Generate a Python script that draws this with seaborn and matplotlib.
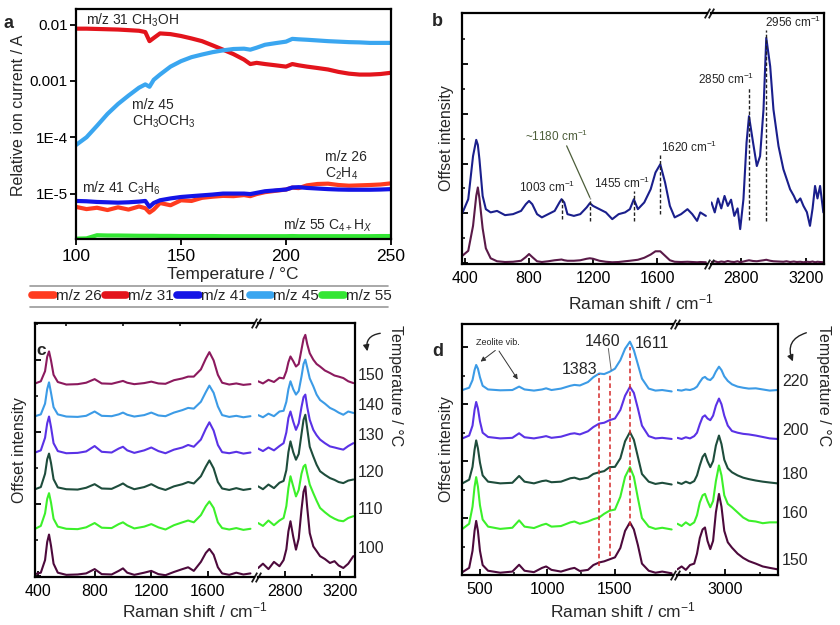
import matplotlib
matplotlib.use("Agg")
import matplotlib.pyplot as plt
import seaborn as sns
from matplotlib.lines import Line2D
from matplotlib.patches import FancyArrowPatch
from matplotlib.ticker import FixedLocator, NullLocator
from matplotlib.transforms import blended_transform_factory

# ---------------- panel a : mass spec traces ----------------
temp = [100, 105, 110, 115, 120, 125, 130, 133, 135, 137, 140, 145, 150, 155, 160, 165, 170, 175,
        180, 183, 186, 190, 195, 200, 203, 206, 210, 215, 220, 225, 230, 235, 240, 245, 250]
mz31 = [8.5e-3, 8.5e-3, 8.4e-3, 8.3e-3, 8.2e-3, 8.0e-3, 7.8e-3, 7.4e-3, 5.1e-3, 5.8e-3, 7.0e-3, 6.8e-3,
        6.3e-3, 5.7e-3, 5.1e-3, 4.3e-3, 3.6e-3, 3.0e-3, 2.4e-3, 2.0e-3, 2.1e-3, 2.0e-3, 1.9e-3, 1.8e-3,
        2.0e-3, 1.9e-3, 1.8e-3, 1.7e-3, 1.6e-3, 1.45e-3, 1.35e-3, 1.3e-3, 1.3e-3, 1.33e-3, 1.4e-3]
mz45 = [7.3e-5, 1.0e-4, 1.6e-4, 2.6e-4, 3.9e-4, 5.5e-4, 7.6e-4, 8.7e-4, 7.9e-4, 1.05e-3, 1.3e-3, 1.8e-3,
        2.25e-3, 2.65e-3, 2.95e-3, 3.25e-3, 3.5e-3, 3.7e-3, 3.75e-3, 3.6e-3, 3.9e-3, 4.4e-3, 4.7e-3, 5.0e-3,
        5.6e-3, 5.5e-3, 5.4e-3, 5.25e-3, 5.1e-3, 5.0e-3, 4.9e-3, 4.85e-3, 4.75e-3, 4.75e-3, 4.75e-3]
mz41 = [7.4e-6, 7.3e-6, 7.1e-6, 7.0e-6, 6.9e-6, 7.0e-6, 7.2e-6, 7.4e-6, 5.8e-6, 6.8e-6, 7.6e-6, 8.2e-6,
        8.7e-6, 9.0e-6, 9.3e-6, 9.6e-6, 1.0e-5, 1.0e-5, 1.0e-5, 9.8e-6, 1.03e-5, 1.1e-5, 1.14e-5, 1.18e-5,
        1.28e-5, 1.3e-5, 1.26e-5, 1.23e-5, 1.2e-5, 1.18e-5, 1.17e-5, 1.17e-5, 1.17e-5, 1.18e-5, 1.2e-5]
mz26 = [5.8e-6, 5.3e-6, 5.6e-6, 5.1e-6, 5.7e-6, 5.2e-6, 5.9e-6, 5.5e-6, 4.6e-6, 5.2e-6, 6.8e-6, 6.2e-6,
        7.6e-6, 7.4e-6, 8.4e-6, 8.8e-6, 9.1e-6, 9.0e-6, 9.4e-6, 9.0e-6, 9.8e-6, 1.06e-5, 1.12e-5, 1.18e-5,
        1.28e-5, 1.25e-5, 1.4e-5, 1.48e-5, 1.5e-5, 1.42e-5, 1.38e-5, 1.4e-5, 1.42e-5, 1.45e-5, 1.52e-5]
mz55 = [1.58e-6, 1.6e-6, 1.82e-6, 1.8e-6, 1.8e-6, 1.79e-6, 1.78e-6, 1.78e-6, 1.78e-6, 1.78e-6, 1.77e-6,
        1.77e-6, 1.76e-6, 1.76e-6, 1.76e-6, 1.76e-6, 1.75e-6, 1.75e-6, 1.75e-6, 1.75e-6, 1.75e-6, 1.75e-6,
        1.75e-6, 1.75e-6, 1.76e-6, 1.75e-6, 1.75e-6, 1.75e-6, 1.75e-6, 1.75e-6, 1.75e-6, 1.75e-6, 1.75e-6,
        1.76e-6, 1.76e-6]
ms_names = ["m/z 26", "m/z 31", "m/z 41", "m/z 45", "m/z 55"]
ms_colors = ["#ff3b1f", "#e3141c", "#1414e6", "#3aa6f0", "#33e633"]

# ---------------- panel b : Raman, two spectra ----------------
b_x_lo = [385, 420, 450, 470, 480, 490, 510, 530, 560, 600, 650, 700, 750, 780, 800, 820, 850, 880, 920,
          960, 990, 1003, 1020, 1040, 1080, 1120, 1160, 1180, 1200, 1240, 1280, 1320, 1360, 1400, 1430,
          1455, 1480, 1520, 1560, 1590, 1620, 1650, 1680, 1710, 1750, 1790, 1820, 1850, 1870, 1905]
b_top_lo = [2.04, 2.57, 4.3, 4.95, 4.75, 4.17, 2.7, 2.17, 2.04, 2.1, 1.93, 1.97, 2.1, 2.37, 2.5, 2.37,
            1.97, 1.84, 1.97, 2.1, 2.44, 2.57, 2.44, 1.97, 1.9, 1.97, 2.24, 2.41, 2.3, 2.17, 2.04, 1.77,
            1.97, 2.04, 2.17, 2.57, 2.17, 2.44, 2.97, 3.64, 3.97, 3.24, 2.3, 1.84, 1.97, 2.17, 1.97, 1.7,
            2.04, 1.9]
b_bot_lo = [0.31, 0.5, 1.5, 2.7, 3.04, 2.6, 1.4, 0.6, 0.2, 0.08, 0.05, 0.06, 0.1, 0.25, 0.37, 0.25, 0.08,
            0.05, 0.08, 0.12, 0.14, 0.15, 0.12, 0.1, 0.1, 0.12, 0.18, 0.2, 0.18, 0.1, 0.06, 0.04, 0.05,
            0.08, 0.1, 0.12, 0.14, 0.22, 0.35, 0.48, 0.48, 0.3, 0.12, 0.06, 0.05, 0.06, 0.05, 0.04, 0.05,
            0.04]
b_x_hi = [2620, 2640, 2660, 2680, 2700, 2720, 2740, 2760, 2780, 2796, 2816, 2835, 2850, 2875, 2898, 2918,
          2939, 2956, 2980, 3000, 3031, 3061, 3080, 3102, 3125, 3143, 3165, 3184, 3205, 3224, 3240, 3255,
          3270, 3286, 3306]
b_top_hi = [2.44, 2.04, 2.6, 2.2, 2.7, 2.3, 2.55, 1.9, 2.2, 1.37, 2.57, 4.84, 5.9, 4.84, 3.9, 4.3, 6.17,
            9.04, 7.9, 6.17, 4.7, 3.77, 3.4, 2.97, 2.7, 2.44, 2.6, 2.3, 2.05, 1.5, 2.2, 3.1, 2.6, 3.1, 2.04]
b_bot_hi = [0.05, 0.08, 0.04, 0.07, 0.05, 0.09, 0.06, 0.05, 0.08, 0.04, 0.07, 0.1, 0.12, 0.09, 0.08, 0.1,
            0.12, 0.14, 0.1, 0.08, 0.07, 0.06, 0.08, 0.05, 0.07, 0.05, 0.06, 0.04, 0.06, 0.05, 0.07, 0.04,
            0.06, 0.05, 0.04]
b_colors = ["#1a1f8c", "#5a1a48"]
b_peaks = [1003, 1180, 1455, 1620, 2850, 2956]
b_peak_lo = [1.77, 1.7, 1.7, 1.97, 1.75, 1.7]
b_peak_hi = [2.64, 2.6, 2.9, 4.44, 7.04, 9.37]
b_peak_text = ["1003 cm$^{-1}$", "~1180 cm$^{-1}$", "1455 cm$^{-1}$", "1620 cm$^{-1}$",
               "2850 cm$^{-1}$", "2956 cm$^{-1}$"]

# ---------------- panel c : 100-150 C ----------------
c_x_lo = [380, 420, 450, 465, 478, 492, 510, 540, 600, 680, 740, 800, 850, 920, 970, 1000, 1030, 1080,
          1150, 1200, 1250, 1300, 1360, 1420, 1460, 1500, 1550, 1585, 1610, 1640, 1670, 1700, 1750, 1800,
          1850, 1900]
c_x_hi = [2605, 2640, 2680, 2720, 2760, 2790, 2810, 2825, 2840, 2860, 2880, 2900, 2920, 2935, 2948, 2962,
          2980, 3006, 3030, 3055, 3090, 3127, 3160, 3190, 3224, 3260, 3297]
c_temps = ["150", "140", "130", "120", "110", "100"]
c_colors = ["#8c1a5e", "#3c9be6", "#5a32e6", "#1e4d3c", "#3cf02a", "#4d0a3c"]
c_lo = [
    [5.36, 5.42, 5.7, 6.1, 6.25, 6.0, 5.6, 5.4, 5.33, 5.34, 5.38, 5.48, 5.36, 5.35, 5.4, 5.43, 5.38, 5.34,
     5.37, 5.41, 5.36, 5.35, 5.45, 5.5, 5.55, 5.55, 5.75, 6.05, 6.23, 6.0, 5.6, 5.38, 5.33, 5.36, 5.32, 5.34],
    [4.45, 4.5, 4.8, 5.2, 5.39, 5.1, 4.7, 4.5, 4.44, 4.43, 4.46, 4.58, 4.46, 4.45, 4.5, 4.55, 4.49, 4.44,
     4.48, 4.55, 4.47, 4.45, 4.55, 4.62, 4.68, 4.66, 4.85, 5.12, 5.3, 5.1, 4.72, 4.48, 4.43, 4.46, 4.42, 4.45],
    [3.44, 3.5, 3.85, 4.25, 4.44, 4.15, 3.7, 3.48, 3.42, 3.43, 3.47, 3.62, 3.46, 3.44, 3.55, 3.6, 3.5, 3.43,
     3.5, 3.58, 3.48, 3.42, 3.52, 3.58, 3.65, 3.6, 3.8, 4.1, 4.28, 4.05, 3.65, 3.45, 3.42, 3.46, 3.41, 3.44],
    [2.42, 2.48, 2.85, 3.25, 3.41, 3.15, 2.7, 2.47, 2.42, 2.41, 2.46, 2.56, 2.44, 2.43, 2.52, 2.58, 2.5, 2.42,
     2.48, 2.56, 2.46, 2.4, 2.5, 2.56, 2.62, 2.58, 2.78, 3.05, 3.22, 3.0, 2.62, 2.44, 2.4, 2.45, 2.4, 2.43],
    [1.32, 1.4, 1.75, 2.15, 2.31, 2.05, 1.6, 1.38, 1.32, 1.31, 1.36, 1.48, 1.35, 1.34, 1.45, 1.5, 1.42, 1.33,
     1.38, 1.45, 1.36, 1.3, 1.42, 1.5, 1.55, 1.5, 1.7, 1.95, 2.08, 1.9, 1.5, 1.34, 1.3, 1.34, 1.29, 1.32],
    [0.06, 0.1, 0.45, 0.95, 1.16, 0.85, 0.35, 0.1, 0.04, 0.05, 0.08, 0.2, 0.06, 0.05, 0.15, 0.22, 0.1, 0.04,
     0.1, 0.15, 0.06, 0.03, 0.12, 0.2, 0.25, 0.15, 0.4, 0.65, 0.76, 0.6, 0.25, 0.08, 0.04, 0.1, 0.05, 0.08],
]
c_hi = [
    [5.42, 5.36, 5.46, 5.4, 5.52, 5.5, 5.7, 5.95, 6.11, 5.98, 5.83, 5.9, 6.3, 6.6, 6.71, 6.45, 6.2, 6.02,
     5.9, 5.83, 5.72, 5.65, 5.58, 5.55, 5.51, 5.42, 5.37],
    [4.48, 4.42, 4.52, 4.45, 4.58, 4.6, 4.85, 5.2, 5.42, 5.2, 5.05, 5.15, 5.55, 5.9, 6.02, 5.8, 5.5, 5.28,
     5.05, 4.9, 4.8, 4.68, 4.62, 4.55, 4.49, 4.58, 4.54],
    [3.55, 3.48, 3.58, 3.5, 3.62, 3.7, 4.0, 4.4, 4.58, 4.3, 4.07, 4.25, 4.7, 4.98, 5.05, 4.7, 4.35, 4.07,
     3.92, 3.8, 3.7, 3.61, 3.58, 3.55, 3.52, 3.62, 3.7],
    [2.5, 2.42, 2.55, 2.45, 2.6, 2.65, 2.95, 3.45, 3.75, 3.45, 3.24, 3.4, 3.95, 4.35, 4.49, 4.1, 3.6, 3.33,
     3.1, 2.92, 2.82, 2.73, 2.68, 2.62, 2.59, 2.66, 2.69],
    [1.48, 1.4, 1.55, 1.42, 1.55, 1.62, 1.95, 2.45, 2.78, 2.5, 2.22, 2.4, 2.85, 3.05, 3.1, 2.85, 2.55, 2.31,
     2.1, 1.9, 1.78, 1.67, 1.6, 1.55, 1.53, 1.62, 1.67],
    [0.23, 0.35, 0.2, 0.4, 0.28, 0.45, 0.75, 1.25, 1.53, 1.1, 0.74, 1.05, 1.85, 2.35, 2.5, 1.9, 1.2, 0.83,
     0.7, 0.56, 0.48, 0.37, 0.42, 0.3, 0.23, 0.35, 0.56],
]

# ---------------- panel d : 150-220 C ----------------
d_x_lo = [370, 420, 445, 460, 472, 485, 500, 520, 560, 650, 740, 790, 830, 900, 960, 990, 1030, 1100, 1170,
          1200, 1240, 1300, 1340, 1383, 1420, 1460, 1500, 1540, 1575, 1611, 1640, 1670, 1700, 1750, 1800,
          1850, 1920]
d_x_hi = [2660, 2690, 2720, 2750, 2780, 2800, 2820, 2840, 2857, 2875, 2895, 2915, 2935, 2957, 2975, 2995,
          3020, 3050, 3090, 3130, 3170, 3220, 3270, 3320, 3375]
d_temps = ["220", "200", "180", "160", "150"]
d_colors = ["#3c9be6", "#5a32e6", "#1e4d3c", "#3cf02a", "#4d0a3c"]
d_lo = [
    [6.5, 6.58, 6.85, 7.2, 7.38, 7.25, 6.95, 6.65, 6.52, 6.49, 6.5, 6.62, 6.52, 6.48, 6.52, 6.56, 6.5, 6.55,
     6.65, 6.68, 6.66, 6.78, 6.95, 7.08, 7.06, 7.14, 7.25, 7.55, 7.95, 8.2, 7.9, 7.4, 6.9, 6.55, 6.48, 6.5, 6.45],
    [4.8, 4.9, 5.25, 5.8, 6.08, 5.85, 5.4, 5.0, 4.85, 4.8, 4.82, 4.98, 4.84, 4.8, 4.85, 4.88, 4.82, 4.86,
     4.96, 4.98, 4.94, 5.05, 5.2, 5.32, 5.35, 5.44, 5.5, 5.8, 6.3, 6.61, 6.4, 5.85, 5.25, 4.88, 4.8, 4.82, 4.78],
    [3.22, 3.35, 3.8, 4.4, 4.73, 4.45, 3.95, 3.5, 3.28, 3.22, 3.24, 3.48, 3.28, 3.22, 3.3, 3.32, 3.26, 3.28,
     3.4, 3.42, 3.36, 3.42, 3.55, 3.61, 3.65, 3.79, 3.8, 4.1, 4.7, 5.02, 4.75, 4.15, 3.55, 3.28, 3.2, 3.24, 3.18],
    [1.62, 1.8, 2.4, 3.1, 3.44, 3.1, 2.45, 1.95, 1.7, 1.62, 1.66, 1.92, 1.7, 1.65, 1.76, 1.8, 1.7, 1.72,
     1.85, 1.88, 1.8, 1.88, 1.96, 2.02, 2.15, 2.26, 2.3, 2.75, 3.45, 3.79, 3.45, 2.7, 2.0, 1.7, 1.62, 1.66, 1.6],
    [0.1, 0.25, 0.85, 1.55, 1.9, 1.55, 0.85, 0.35, 0.15, 0.08, 0.12, 0.36, 0.15, 0.1, 0.25, 0.3, 0.18, 0.12,
     0.22, 0.25, 0.14, 0.18, 0.35, 0.44, 0.48, 0.55, 0.62, 0.95, 1.55, 1.85, 1.6, 1.05, 0.4, 0.15, 0.08, 0.12, 0.06],
]
d_hi = [
    [6.5, 6.48, 6.52, 6.5, 6.55, 6.62, 6.78, 6.92, 6.96, 6.88, 6.85, 6.95, 7.15, 7.32, 7.2, 6.98, 6.82, 6.7,
     6.62, 6.58, 6.55, 6.56, 6.52, 6.48, 6.5],
    [4.82, 4.78, 4.84, 4.8, 4.88, 5.0, 5.3, 5.55, 5.61, 5.5, 5.44, 5.6, 5.95, 6.2, 6.0, 5.6, 5.25, 5.06,
     5.0, 4.96, 4.94, 4.9, 4.85, 4.8, 4.78],
    [3.25, 3.2, 3.28, 3.22, 3.3, 3.5, 3.85, 4.15, 4.26, 4.0, 3.79, 4.0, 4.55, 4.9, 4.6, 4.05, 3.75, 3.61,
     3.5, 3.42, 3.37, 3.32, 3.28, 3.25, 3.22],
    [1.8, 1.72, 1.85, 1.75, 1.85, 2.1, 2.55, 2.8, 2.85, 2.6, 2.38, 2.6, 3.3, 3.85, 3.5, 2.8, 2.5, 2.38,
     2.2, 2.02, 1.91, 1.88, 1.82, 1.85, 1.85],
    [0.2, 0.3, 0.18, 0.35, 0.4, 0.75, 1.3, 1.6, 1.67, 1.2, 0.91, 1.2, 2.2, 2.85, 2.4, 1.55, 1.15, 0.96,
     0.75, 0.6, 0.49, 0.4, 0.3, 0.25, 0.2],
]
d_peaks = [1383, 1460, 1611]
d_peak_lo = [0.32, 0.67, 1.73]
d_peak_hi = [7.08, 7.02, 8.02]

W, H = 840, 625

sns.set_theme(style="ticks")
plt.rcParams["font.family"] = ["Liberation Sans", "DejaVu Sans"]
plt.rcParams["mathtext.fontset"] = "custom"
plt.rcParams["mathtext.rm"] = "Liberation Sans"
plt.rcParams["mathtext.it"] = "Liberation Sans:italic"
plt.rcParams["mathtext.bf"] = "Liberation Sans:bold"
plt.rcParams["axes.edgecolor"] = "black"
plt.rcParams["axes.linewidth"] = 1.6
plt.rcParams["xtick.color"] = "black"
plt.rcParams["ytick.color"] = "black"

fig = plt.figure(figsize=(8.4, 6.25), dpi=100)


def box(x0, y0, x1, y1):
    # page pixels (top-left origin) -> figure rect
    return [x0 / W, 1 - y1 / H, (x1 - x0) / W, (y1 - y0) / H]


def draw(ax, x, y, color, lw=1.5):
    sns.lineplot(x=x, y=y, ax=ax, color=color, linewidth=lw, estimator=None, sort=False, legend=False)


def ftext(px, py, s, **kw):
    fig.text(px / W, 1 - py / H, s, ha=kw.pop("ha", "center"), va=kw.pop("va", "center"), **kw)


def broken(axL, axR, ylim, ymaj, ymin, xL, xR, xmajL, xmajR, xminR=()):
    for ax in (axL, axR):
        ax.set_ylim(*ylim)
        ax.set_xlabel("")
        ax.set_ylabel("")
        ax.patch.set_visible(False)
    axL.set_xlim(*xL)
    axR.set_xlim(*xR)
    axL.spines["right"].set_visible(False)
    axR.spines["left"].set_visible(False)
    axL.set_xticks(xmajL)
    axR.set_xticks(xmajR)
    axR.set_xticks(list(xminR), minor=True)
    axL.set_yticks(ymaj)
    axL.set_yticks(ymin, minor=True)
    axL.tick_params(axis="y", which="both", direction="in", labelleft=False)
    axR.tick_params(axis="y", which="both", left=False, labelleft=False)
    for ax in (axL, axR):
        ax.tick_params(which="major", direction="in", length=4.5, width=1.3, labelsize=11.5, pad=5)
        ax.tick_params(which="minor", direction="in", length=2.5, width=1.1)
    kw = dict(marker=[(-1, -1.8), (1, 1.8)], markersize=7, linestyle="none", color="k", mec="k",
              mew=1.3, clip_on=False)
    axL.plot([1, 1], [0, 1], transform=axL.transAxes, **kw)
    axR.plot([0, 0], [0, 1], transform=axR.transAxes, **kw)


# ---------------- panel a ----------------
axA = fig.add_axes(box(76, 9, 391, 239))
for vals, col in zip([mz55, mz31, mz45, mz26, mz41], ["#33e633", "#e3141c", "#3aa6f0", "#ff3b1f", "#1414e6"]):
    draw(axA, temp, vals, col, lw=3.0)
axA.set_yscale("log")
axA.set_ylim(1.56e-6, 0.019)
axA.set_xlim(100, 250)
axA.yaxis.set_major_locator(FixedLocator([1e-5, 1e-4, 1e-3, 1e-2]))
axA.yaxis.set_minor_locator(NullLocator())
axA.set_yticklabels(["1E-5", "1E-4", "0.001", "0.01"])
axA.set_xticks([100, 150, 200, 250])
axA.tick_params(axis="y", direction="out", length=4, width=1.3, labelsize=11, pad=2)
axA.tick_params(axis="x", direction="out", length=4, width=1.3, labelsize=12.5, pad=3)
axA.set_xlabel("")
axA.set_ylabel("")
axA.text(105, 1.22e-2, "m/z 31 CH$_3$OH", fontsize=10, va="center")
axA.text(126.5, 2.6e-4, "m/z 45\nCH$_3$OCH$_3$", fontsize=10, va="center", linespacing=1.1)
axA.text(103, 1.22e-5, "m/z 41 C$_3$H$_6$", fontsize=10, va="center")
axA.text(218.5, 3.1e-5, "m/z 26\nC$_2$H$_4$", fontsize=10, va="center", linespacing=1.1)
axA.text(198.5, 2.75e-6, "m/z 55 C$_{4+}$H$_X$", fontsize=10, va="center")
ftext(233, 274, "Temperature / °C", fontsize=12.5)
ftext(19, 115, "Relative ion current / A", fontsize=11.5, rotation=90)
ftext(9, 23, "a", fontsize=13, fontweight="bold")

handles = [Line2D([], [], color=c, lw=5.5, solid_capstyle="round") for c in ms_colors]
fig.legend(handles, ms_names, loc="center", bbox_to_anchor=(212 / W, 1 - 296 / H), ncol=5, frameon=False,
           fontsize=11, handlelength=1.4, handletextpad=0.15, columnspacing=0.2, borderaxespad=0)
for py in (286, 307):
    fig.add_artist(Line2D([30 / W, 388 / W], [1 - py / H, 1 - py / H], color="#9a9a9a", lw=1.2))

# ---------------- panel b ----------------
axBL = fig.add_axes(box(462, 13, 707, 264))
axBR = fig.add_axes(box(711, 13, 824, 264))
draw(axBL, b_x_lo, b_bot_lo, b_colors[1])
draw(axBL, b_x_lo, b_top_lo, b_colors[0])
draw(axBR, b_x_hi, b_bot_hi, b_colors[1])
draw(axBR, b_x_hi, b_top_hi, b_colors[0])
broken(axBL, axBR, (-0.03, 10.04), [0, 2, 4, 6, 8], [1, 3, 5, 7, 9], (381, 1912), (2617, 3310),
       [400, 800, 1200, 1600], [2800, 3200])
for xp, lo, hi in zip(b_peaks, b_peak_lo, b_peak_hi):
    ax = axBL if xp < 2000 else axBR
    ax.vlines(xp, lo, hi, colors="#222222", linestyles=(0, (2.5, 1.5)), lw=1.0)
axBL.text(910, 2.72, b_peak_text[0], fontsize=8.5, ha="center", va="bottom")
axBL.text(975, 4.8, b_peak_text[1], fontsize=8.5, ha="center", va="bottom", color="#4d5e3a")
axBL.plot([1035, 1180], [4.71, 2.64], color="#4d5e3a", lw=0.9)
axBL.text(1379, 2.9, b_peak_text[2], fontsize=8.5, ha="center", va="bottom")
axBL.text(1623, 4.33, b_peak_text[3], fontsize=8.5, ha="left", va="bottom", clip_on=False)
axBR.text(2885, 7.08, b_peak_text[4], fontsize=8.5, ha="right", va="bottom", clip_on=False)
axBR.text(2950, 9.35, b_peak_text[5], fontsize=8.5, ha="left", va="bottom", clip_on=False)
axBL.set_ylabel("Offset intensity", fontsize=11.5, labelpad=6)
ftext(641, 302, "Raman shift / cm$^{-1}$", fontsize=12.5)
ftext(437, 22, "b", fontsize=13, fontweight="bold")

# ---------------- panel c ----------------
axCL = fig.add_axes(box(35, 323, 254, 577))
axCR = fig.add_axes(box(258, 323, 355, 577))
trC = blended_transform_factory(axCR.transAxes, axCR.transData)
for lab, col, ylo, yhi in zip(c_temps, c_colors, c_lo, c_hi):
    draw(axCL, c_x_lo, ylo, col)
    draw(axCR, c_x_hi, yhi, col)
    axCR.text(1.03, yhi[-1] + 0.2, lab, transform=trC, fontsize=11.5, ha="left", va="center")
broken(axCL, axCR, (-0.02, 7.04), [0, 2, 4, 6], [1, 3, 5, 7], (379, 1925), (2604, 3309),
       [400, 800, 1200, 1600], [2800, 3200], [3000])
axCL.set_xticks([600, 1000, 1400], minor=True)
axCL.tick_params(which="minor", top=True, bottom=False)
axCL.set_ylabel("Offset intensity", fontsize=11.5, labelpad=6)
ftext(195, 610, "Raman shift / cm$^{-1}$", fontsize=12.5)
ftext(41, 350, "c", fontsize=12.5, fontweight="bold", zorder=10)
ftext(396, 386, "Temperature / °C", fontsize=11.5, rotation=270)
fig.add_artist(FancyArrowPatch((383 / W, 1 - 333 / H), (368 / W, 1 - 354 / H), transform=fig.transFigure,
                               connectionstyle="arc3,rad=0.6", arrowstyle="-|>", mutation_scale=9,
                               color="#222222", lw=1.0))

# ---------------- panel d ----------------
axDL = fig.add_axes(box(462, 324, 673, 575))
axDR = fig.add_axes(box(677, 324, 778, 575))
trD = blended_transform_factory(axDR.transAxes, axDR.transData)
for lab, col, ylo, yhi in zip(d_temps, d_colors, d_lo, d_hi):
    draw(axDL, d_x_lo, ylo, col)
    draw(axDR, d_x_hi, yhi, col)
    axDR.text(1.04, yhi[-1] + 0.3, lab, transform=trD, fontsize=11.5, ha="left", va="center")
broken(axDL, axDR, (0, 8.82), [0, 2, 4, 6, 8], [1, 3, 5, 7], (367, 1930), (2657, 3379),
       [500, 1000, 1500], [3000], [2750, 3250])
axDL.set_xticks([750, 1250], minor=True)
axDL.vlines(d_peaks, d_peak_lo, d_peak_hi, colors="#d42a2a", linestyles=(0, (3, 2)), lw=1.1)
axDL.text(1241, 7.22, "1383", fontsize=11.5, ha="center", va="center")
axDL.text(1406, 8.2, "1460", fontsize=11.5, ha="center", va="center")
axDL.text(1777, 8.12, "1611", fontsize=11.5, ha="center", va="center")
axDL.plot([1451, 1472], [7.96, 7.2], color="#666666", lw=0.7)
axDL.text(636, 8.16, "Zeolite vib.", fontsize=6.5, ha="center", va="center")
for tip in [(488, 7.44), (791, 6.79)]:
    axDL.annotate("", xy=tip, xytext=(630, 7.95),
                  arrowprops=dict(arrowstyle="-|>", color="#333333", lw=0.7, mutation_scale=7))
axDL.set_ylabel("Offset intensity", fontsize=11.5, labelpad=6)
ftext(623, 610, "Raman shift / cm$^{-1}$", fontsize=12.5)
ftext(438, 352, "d", fontsize=13, fontweight="bold")
ftext(823, 386, "Temperature / °C", fontsize=11.5, rotation=270)
fig.add_artist(FancyArrowPatch((809 / W, 1 - 332 / H), (794 / W, 1 - 364 / H), transform=fig.transFigure,
                               connectionstyle="arc3,rad=0.6", arrowstyle="-|>", mutation_scale=9,
                               color="#222222", lw=1.0))

fig.savefig("out.png", dpi=100)
